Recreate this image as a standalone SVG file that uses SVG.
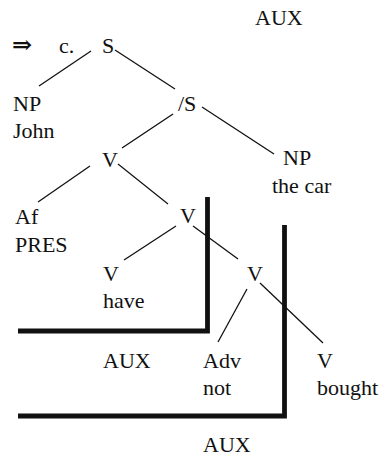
<svg xmlns="http://www.w3.org/2000/svg" width="388" height="468" viewBox="0 0 388 468">
<style>
text{font-family:"Liberation Serif","DejaVu Serif",serif;font-size:22px;fill:#111}
.e{stroke:#111;stroke-width:1.3;fill:none}
.b{stroke:#111;stroke-width:4.8;fill:none;stroke-linejoin:miter}
</style>
<rect width="388" height="468" fill="#fff"/>
<g id="connectors">
<line class="e" x1="91" y1="51" x2="39" y2="86"/>
<line class="e" x1="115" y1="50" x2="175" y2="89"/>
<line class="e" x1="173" y1="114" x2="122" y2="148"/>
<line class="e" x1="202" y1="107" x2="274" y2="154"/>
<line class="e" x1="90" y1="166" x2="38" y2="202"/>
<line class="e" x1="118" y1="164" x2="168" y2="204"/>
<line class="e" x1="176" y1="226" x2="124" y2="260"/>
<line class="e" x1="193" y1="226" x2="238" y2="259"/>
<line class="e" x1="247" y1="289" x2="218" y2="342"/>
<line class="e" x1="260" y1="283" x2="323" y2="343"/>
</g>
<g id="aux-brackets">
<polyline class="b" points="18,331 207.5,331 207.5,197"/>
<polyline class="b" points="18,416 284.5,416 284.5,225"/>
</g>
<g id="label-aux-top"><text x="255" y="25">AUX</text></g>
<g id="label-arrow"><text x="12" y="53" style="font-weight:bold;font-size:24px">⇒</text><text x="59" y="53">c.</text></g>
<g id="node-S"><text x="102" y="53">S</text></g>
<g id="node-NP-John"><text x="13" y="111">NP</text><text x="13" y="138">John</text></g>
<g id="node-barS"><text x="178" y="111">/S</text></g>
<g id="node-V1"><text x="102" y="167">V</text></g>
<g id="node-NP-car"><text x="283" y="165">NP</text><text x="272" y="193">the car</text></g>
<g id="node-Af"><text x="15" y="224">Af</text><text x="15" y="252">PRES</text></g>
<g id="node-V2"><text x="180" y="223">V</text></g>
<g id="node-V-have"><text x="103" y="281">V</text><text x="103" y="308">have</text></g>
<g id="node-V3"><text x="247" y="281">V</text></g>
<g id="label-aux-mid"><text x="103" y="368">AUX</text></g>
<g id="node-Adv"><text x="203" y="368">Adv</text><text x="203" y="395">not</text></g>
<g id="node-V-bought"><text x="317" y="368">V</text><text x="317" y="395">bought</text></g>
<g id="label-aux-bottom"><text x="203" y="452">AUX</text></g>
</svg>
